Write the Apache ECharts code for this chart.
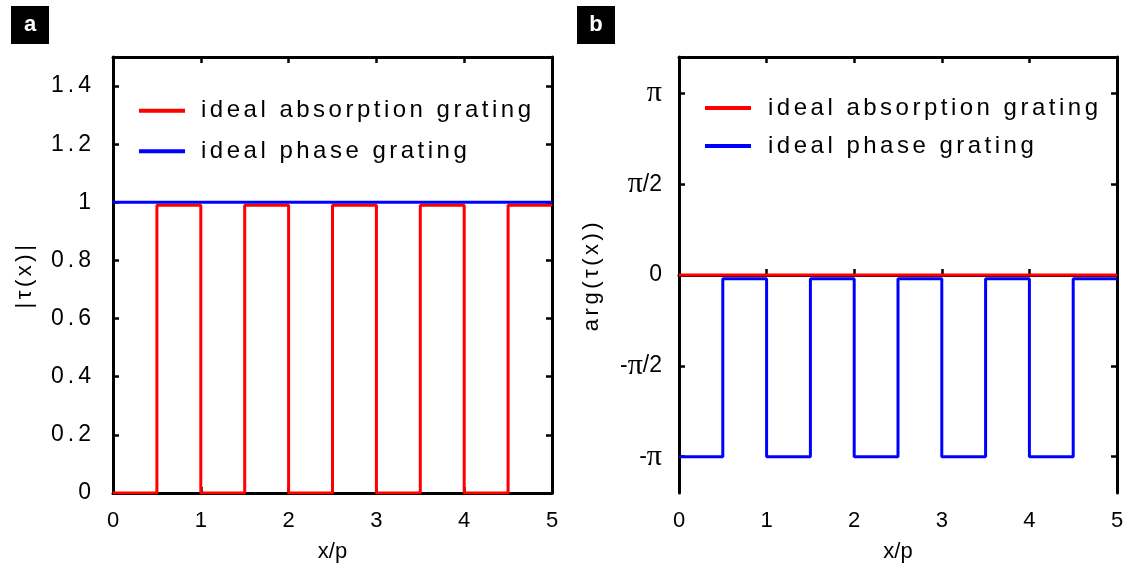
<!DOCTYPE html>
<html>
<head>
<meta charset="utf-8">
<script src="https://cdn.jsdelivr.net/npm/echarts@6/dist/echarts.min.js"></script>
<style>html,body{margin:0;padding:0;background:#fff}#c{width:1133px;height:570px}</style>
</head>
<body>
<div id="c"></div>
<script>
// letter spacing for text whose font list includes a marker family "spacedN"
(function(){
  var P = CanvasRenderingContext2D.prototype;
  if (!('letterSpacing' in P)) return;
  var of = P.fillText, om = P.measureText;
  function sp(ctx){ var m = /spaced([\d_]+)/.exec(ctx.font); return m ? m[1].replace('_', '.') + 'px' : '0px'; }
  P.fillText = function(t,x,y,w){ var p=this.letterSpacing; this.letterSpacing=sp(this); var r = w===undefined? of.call(this,t,x,y) : of.call(this,t,x,y,w); this.letterSpacing=p; return r; };
  P.measureText = function(t){ var p=this.letterSpacing; this.letterSpacing=sp(this); var r=om.call(this,t); this.letterSpacing=p; return r; };
})();

// ---- data ----
var xTicks = [0, 1, 2, 3, 4, 5];
var magTicks = [0, 0.2, 0.4, 0.6, 0.8, 1, 1.2, 1.4];
var phaseTicks = [-1, -0.5, 0, 0.5, 1];              // in units of pi
var phaseTickLabels = ['-{p|π}', '-{p|π}/2', '0', '{p|π}/2', '{p|π}'];
var stepX = [0, 0.5, 1, 1.5, 2, 2.5, 3, 3.5, 4, 4.5, 5];
var absMag = [0, 0.99, 0, 0.99, 0, 0.99, 0, 0.99, 0, 0.99, 0.99];
var phaseMagX = [0, 5];
var phaseMag = [1, 1];
var absPhaseX = [0, 5];
var absPhase = [0, 0];                                 // units of pi
var phasePhase = [-1, -0.02, -1, -0.02, -1, -0.02, -1, -0.02, -1, -0.02, -0.02]; // units of pi
var seriesNames = ['ideal absorption grating', 'ideal phase grating'];

function pairs(xs, ys){ return xs.map(function(x,i){ return [x, ys[i]]; }); }

var FONTT = "'Liberation Sans', spaced4, Arial, sans-serif";     // y tick labels
var FONTA = "'Liberation Sans', spaced3_5, Arial, sans-serif";   // axis names / legend
var FONTN = "'Liberation Sans', Arial, sans-serif";
var RED = '#ff0000', BLUE = '#0000ff';

var grids = [
  {left: 113, top: 57, width: 439, height: 436},
  {left: 679, top: 57, width: 438, height: 436}
];

function xAxes(gi){
  return [{
    type: 'value', gridIndex: gi, min: 0, max: 5, position: 'bottom',
    name: 'x/p', nameLocation: 'middle', nameGap: 48,
    nameTextStyle: {fontFamily: FONTN, fontSize: 22, color: '#000'},
    axisLine: {show: true, lineStyle: {color: '#000', width: 3}},
    axisTick: {show: true, inside: true, length: 6, lineStyle: {color: '#000', width: 2.5}, customValues: xTicks},
    axisLabel: {show: true, fontFamily: FONTN, fontSize: 22, color: '#000', margin: 17, customValues: xTicks},
    splitLine: {show: false}
  }, {
    type: 'value', gridIndex: gi, min: 0, max: 5, position: 'top',
    axisLine: {show: true, onZero: false, lineStyle: {color: '#000', width: 3}},
    axisTick: {show: true, inside: true, length: 6, lineStyle: {color: '#000', width: 2.5}, customValues: xTicks},
    axisLabel: {show: false}, splitLine: {show: false}
  }];
}

var opt = {
  animation: false,
  backgroundColor: '#fff',
  grid: grids,
  xAxis: xAxes(0).concat(xAxes(1)),
  yAxis: [
    {
      type: 'value', gridIndex: 0, min: 0, max: 1.5, position: 'left',
      name: '|τ(x)|', nameLocation: 'middle', nameGap: 75, nameRotate: 90,
      nameTextStyle: {fontFamily: FONTA, fontSize: 22, color: '#000'},
      axisLine: {show: true, onZero: false, lineStyle: {color: '#000', width: 3}},
      axisTick: {show: true, inside: true, length: 6, lineStyle: {color: '#000', width: 2.5}, customValues: magTicks},
      axisLabel: {show: true, fontFamily: FONTT, fontSize: 23, color: '#000', margin: 18, customValues: magTicks},
      splitLine: {show: false}
    },
    {
      type: 'value', gridIndex: 0, min: 0, max: 1.5, position: 'right',
      axisLine: {show: true, onZero: false, lineStyle: {color: '#000', width: 3}},
      axisTick: {show: true, inside: true, length: 6, lineStyle: {color: '#000', width: 2.5}, customValues: magTicks},
      axisLabel: {show: false}, splitLine: {show: false}
    },
    {
      type: 'value', gridIndex: 1, min: -1.2, max: 1.2, position: 'left',
      name: 'arg(τ(x))', nameLocation: 'middle', nameGap: 74, nameRotate: 90,
      nameTextStyle: {fontFamily: FONTA, fontSize: 22, color: '#000'},
      axisLine: {show: true, onZero: false, lineStyle: {color: '#000', width: 3}},
      axisTick: {show: true, inside: true, length: 6, lineStyle: {color: '#000', width: 2.5}, customValues: phaseTicks},
      axisLabel: {show: true, fontFamily: FONTN, fontSize: 23, color: '#000', margin: 17, customValues: phaseTicks,
        rich: {p: {fontFamily: "'Liberation Serif', 'Times New Roman', serif", fontSize: 30, color: '#000'}},
        formatter: function(v){ var i = phaseTicks.indexOf(Math.round(v*2)/2); return i >= 0 ? phaseTickLabels[i] : ''; }},
      splitLine: {show: false}
    },
    {
      type: 'value', gridIndex: 1, min: -1.2, max: 1.2, position: 'right',
      axisLine: {show: true, onZero: false, lineStyle: {color: '#000', width: 3}},
      axisTick: {show: true, inside: true, length: 6, lineStyle: {color: '#000', width: 2.5}, customValues: phaseTicks},
      axisLabel: {show: false}, splitLine: {show: false}
    }
  ],
  legend: [
    {
      data: seriesNames, orient: 'vertical', left: 134, top: 92,
      icon: 'rect', itemWidth: 46, itemHeight: 4, itemGap: 13,
      textStyle: {fontFamily: FONTA, fontSize: 24, color: '#000', lineHeight: 24, padding: [0,0,0,11]},
      selectedMode: false
    }
  ],
  graphic: [
    {type: 'rect', shape: {x: 11, y: 6, width: 38, height: 38}, style: {fill: '#000'}},
    {type: 'text', x: 30, y: 25, style: {text: 'a', fill: '#fff', font: "bold 22px 'Liberation Sans', Arial", align: 'center', verticalAlign: 'middle'}},
    {type: 'rect', shape: {x: 577, y: 6, width: 38, height: 38}, style: {fill: '#000'}},
    {type: 'text', x: 596, y: 25, style: {text: 'b', fill: '#fff', font: "bold 22px 'Liberation Sans', Arial", align: 'center', verticalAlign: 'middle'}},
    // legend for panel b (same series names, drawn beside the second panel)
    {type: 'line', shape: {x1: 705, y1: 108, x2: 751, y2: 108}, style: {stroke: RED, lineWidth: 4}},
    {type: 'text', x: 768, y: 108, style: {text: seriesNames[0], fill: '#000', font: "24px " + FONTA, verticalAlign: 'middle'}},
    {type: 'line', shape: {x1: 705, y1: 146, x2: 751, y2: 146}, style: {stroke: BLUE, lineWidth: 4}},
    {type: 'text', x: 768, y: 146, style: {text: seriesNames[1], fill: '#000', font: "24px " + FONTA, verticalAlign: 'middle'}}
  ],
  series: [
    {name: seriesNames[0], type: 'line', xAxisIndex: 0, yAxisIndex: 0, step: 'end', showSymbol: false, symbol: 'none',
      data: pairs(stepX, absMag), lineStyle: {color: RED, width: 3}, itemStyle: {color: RED}},
    {name: seriesNames[1], type: 'line', xAxisIndex: 0, yAxisIndex: 0, showSymbol: false, symbol: 'none',
      data: pairs(phaseMagX, phaseMag), lineStyle: {color: BLUE, width: 3}, itemStyle: {color: BLUE}},
    {name: seriesNames[0], type: 'line', xAxisIndex: 2, yAxisIndex: 2, showSymbol: false, symbol: 'none',
      data: pairs(absPhaseX, absPhase), lineStyle: {color: RED, width: 3}, itemStyle: {color: RED}},
    {name: seriesNames[1], type: 'line', xAxisIndex: 2, yAxisIndex: 2, step: 'end', showSymbol: false, symbol: 'none',
      data: pairs(stepX, phasePhase), lineStyle: {color: BLUE, width: 3}, itemStyle: {color: BLUE}}
  ]
};
var chart = echarts.init(document.getElementById('c'), null, {renderer: 'canvas'});
chart.setOption(opt);
</script>
</body>
</html>
